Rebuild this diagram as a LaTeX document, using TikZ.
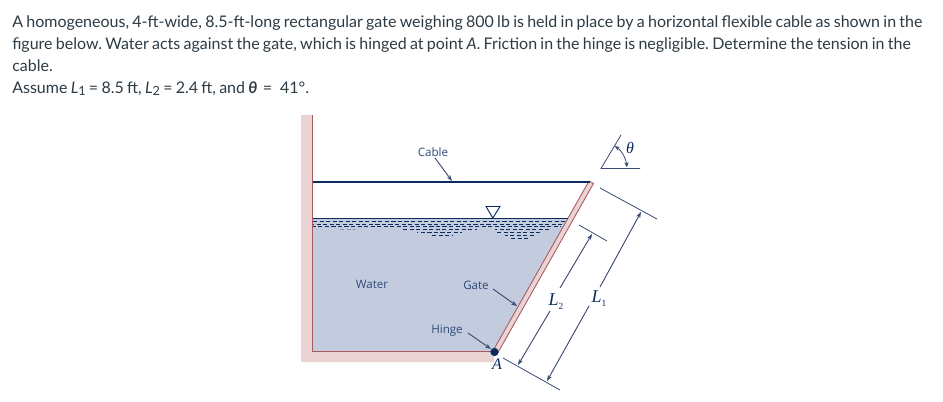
\documentclass[tikz,border=0pt]{standalone}
\usepackage{fontspec}
\setmainfont[WordSpace=0.8]{Lato}
\newfontfamily\lblfont{Open Sans}
\newfontfamily\serfont{Liberation Serif}
\usetikzlibrary{arrows.meta}
\definecolor{pinkw}{HTML}{E9D3D3}
\definecolor{redl}{HTML}{A85A60}
\definecolor{waterc}{HTML}{C3CCDF}
\definecolor{navy}{HTML}{0B2A5E}
\definecolor{thinl}{HTML}{3A4A72}
\definecolor{txt}{HTML}{2D3B45}
\newcommand{\sbs}[1]{\raisebox{-0.32ex}{\fontsize{9.5pt}{10pt}\selectfont #1}}
\tikzset{
  x=0.75pt,y=-0.75pt,
  para/.style={anchor=base west,inner sep=0,text=txt,font=\frenchspacing\fontsize{12pt}{14pt}\selectfont},
  lbl/.style={inner sep=0,text=navy!85!white,font=\lblfont\fontsize{8.7pt}{10pt}\selectfont},
  lett/.style={inner sep=0,text=navy,font=\serfont\itshape\fontsize{12pt}{14pt}\selectfont},
  thinline/.style={draw=thinl,line width=0.6pt},
  ptr/.style={draw=thinl,line width=0.7pt,-{Stealth[length=4.5pt,width=3.2pt,fill=navy]}},
  wdash/.style={draw=navy,line width=0.65pt,dash pattern=on 3.1pt off 1.8pt},
  gdash/.style={draw=navy!35!waterc,line width=0.65pt,dash pattern=on 3.1pt off 1.8pt},
}
\begin{document}
\begin{tikzpicture}
\useasboundingbox[fill=white] (0,0) rectangle (943,401);
% text
\node[para] (t1) at (12,27) {A homogeneous, 4-ft-wide, 8.5-ft-long rectangular gate weighing 800 lb is held in place by a horizontal flexible cable as shown in the};
\node[para] (t2) at (12,49) {figure below. Water acts against the gate, which is hinged at point \emph{A}. Friction in the hinge is negligible. Determine the tension in the};
\node[para] (t3) at (12,71) {cable.};
\node[para] (t4) at (12,93) {Assume \emph{L}\sbs{1} = 8.5 ft, \emph{L}\sbs{2} = 2.4 ft, and \textbf{\emph{θ}}\,\,=\,\,\,41°.};
% water
\fill[waterc] (312.5,218) -- (569,218) -- (493,351) -- (312.5,351) -- cycle;
% wall
\fill[pinkw] (301,115) -- (312.5,115) -- (312.5,351) -- (494,351) -- (494,362) -- (301,362) -- cycle;
\draw[redl,line width=0.6pt] (312.5,115) -- (312.5,351) -- (494,351);
% gate
\filldraw[fill=pinkw,draw=redl,line width=0.65pt] (493.5,350) -- (589,181) -- (593.5,183.5) -- (498,352.5) -- cycle;
% water surface
\draw[navy,line width=1pt] (313,218.5) -- (568,218.5);
\draw[wdash] (313,221.5) -- (566,221.5);
\draw[wdash,dash phase=2.2pt] (313,224.5) -- (564,224.5);
\draw[wdash,dash phase=0.9pt] (313,226.5) -- (561,226.5);
\draw[gdash] (340,229.5) -- (355,229.5);
\draw[wdash] (403,229.5) -- (477,229.5);
\draw[wdash,dash phase=1.5pt] (495,229.5) -- (550,229.5);
\draw[wdash,dash phase=2pt] (417,232.5) -- (462,232.5);
\draw[wdash] (497,232.5) -- (541,232.5);
\draw[wdash] (432,235.5) -- (453,235.5);
\draw[wdash,dash phase=1pt] (505,235.5) -- (535,235.5);
\draw[wdash] (511,238.5) -- (528,238.5);
\draw[fill=white,draw=navy,line width=0.7pt] (486,206.5) -- (500,206.5) -- (492.8,218) -- cycle;
% cable
\coordinate (wallc) at (313,181.8);
\coordinate (gatec) at (590,181.8);
\draw[navy,line width=1.35pt] (wallc) -- (gatec);
% labels
\node[lbl] (cable) at (433,152.5) {Cable};
\node[lbl] (water) at (372,284.5) {Water};
\node[lbl] (gate) at (476,285.5) {Gate};
\node[lbl] (hinge) at (447,330.5) {Hinge};
\coordinate (cablept) at (452,181);
\coordinate (gatept) at (517,306);
\coordinate (hingept) at (491,349);
\draw[ptr] (435,158) -- (cablept);
\draw[ptr] (493,289) -- (gatept);
\draw[ptr] (468,333) -- (hingept);
\node[circle,fill=navy,inner sep=0,minimum size=6.2pt] (A) at (494.5,352) {};
\node[lett] (Alab) at (497,364.5) {A};
% dimensions
\coordinate (bt1) at (503,358); \coordinate (bt2) at (560,390);
\coordinate (ut1) at (579,225); \coordinate (ut2) at (607,241);
\coordinate (lt1) at (600,188); \coordinate (lt2) at (657,219);
\draw[thinline] (bt1) -- (bt2);
\draw[thinline] (ut1) -- (ut2);
\draw[thinline] (lt1) -- (lt2);
\node[lett,font=\serfont\itshape\fontsize{13.5pt}{14pt}\selectfont] (L2) at (556,301.5) {L\raisebox{-0.5ex}{\fontsize{7pt}{8pt}\selectfont\upshape 2}};
\node[lett,font=\serfont\itshape\fontsize{13.5pt}{14pt}\selectfont] (L1) at (599,298.5) {L\raisebox{-0.5ex}{\fontsize{7pt}{8pt}\selectfont\upshape 1}};
\coordinate (l2a) at (550,311); \coordinate (l2b) at (560,288);
\coordinate (l1a) at (589,306); \coordinate (l1b) at (600,287);
\draw[ptr] (l2a) -- (518,365);
\draw[ptr] (l2b) -- (592,234);
\draw[ptr] (l1a) -- (547,381);
\draw[ptr] (l1b) -- (641,212);
% theta
\coordinate (th) at (601,168.5);
\draw[thinline] (640,168.5) -- (th) -- (621,135);
\draw[draw=thinl,line width=0.6pt,{Stealth[length=4pt,width=3pt,fill=navy]}-{Stealth[length=4pt,width=3pt,fill=navy]}] (614.5,146) .. controls (621,150) and (626,158) .. (627,167.5);
\node[lett,font=\serfont\itshape\fontsize{12pt}{14pt}\selectfont] (thl) at (630,148) {θ};
\end{tikzpicture}
\end{document}
